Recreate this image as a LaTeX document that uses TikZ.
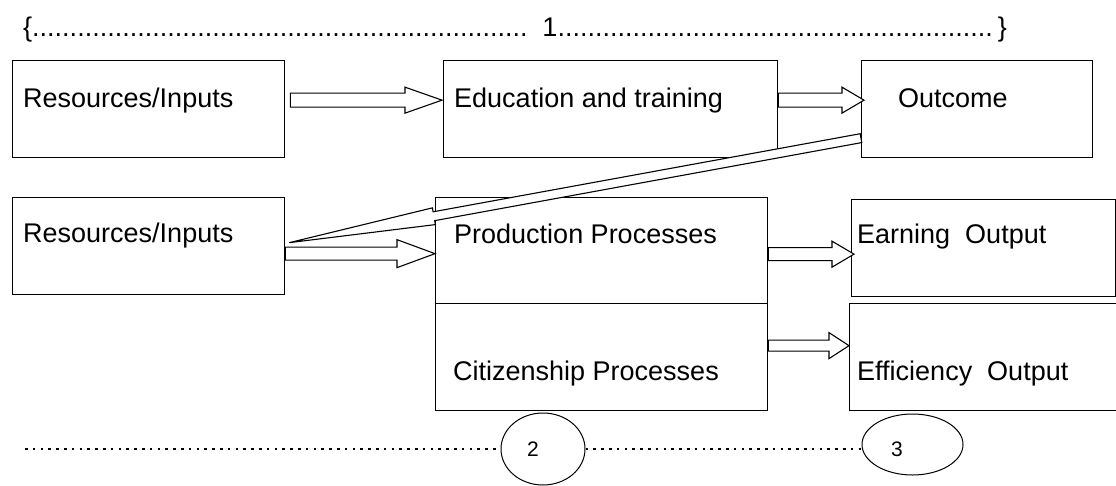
\documentclass[tikz,border=0pt]{standalone}
\usepackage{fontspec}
\setmainfont{Liberation Sans}
\usetikzlibrary{calc}
\usetikzlibrary{shapes.geometric}
\tikzset{
	box/.style = {draw, rectangle, line width=1.3pt, inner sep=0pt, anchor=north west},
	txt/.style = {anchor=base west, inner sep=0pt, font=\fontsize{27}{32}\selectfont},
	num/.style = {inner sep=0pt, font=\fontsize{21}{25}\selectfont},
	ring/.style = {draw, ellipse, line width=1pt, inner sep=0pt},
	hollow/.style = {draw, fill=white, line width=1.1pt, line join=miter},
	dotrule/.style = {line width=2.6pt, dash pattern=on 2.6pt off 5.2pt}
}
% row of full stops
\newcommand{\dotrow}[1]{\hbox to #1{\leaders\hbox{.}\hfill}}
% hollow block arrow: tail, tip, half shaft, half head, head length
\newcommand{\fatarrow}[5]{%
	\coordinate (hb) at ($(#2)!#5!(#1)$);
	\draw[hollow] ($(#1)!#3!90:(#2)$) -- ($(hb)!#3!90:(#2)$) -- ($(hb)!#4!90:(#2)$) -- (#2)
		-- ($(hb)!#4!-90:(#2)$) -- ($(hb)!#3!-90:(#2)$) -- ($(#1)!#3!-90:(#2)$) -- cycle;
}

\begin{document}
\begin{tikzpicture}[x=1pt, y=-1pt]
		\useasboundingbox (0,0) rectangle (1116,485);
		\node (brace)[txt] at (23,36){\{\dotrow{497pt}\hspace{13pt}1\dotrow{440pt}\}};
		%
		\node (resA)[box, minimum width=272pt, minimum height=97pt] at (12,60){};
		\node (edu)[box, minimum width=334pt, minimum height=97pt] at (443,60){};
		\node (outc)[box, minimum width=231pt, minimum height=97pt] at (861,60){};
		\node (resB)[box, minimum width=272pt, minimum height=97pt] at (12,197){};
		\node (prod)[box, minimum width=332pt, minimum height=106pt] at (435,197){};
		\node (citz)[box, minimum width=332pt, minimum height=107pt] at (435,303){};
		\node (earn)[box, minimum width=264pt, minimum height=97pt] at (851,199){};
		\node (effi)[box, minimum width=270pt, minimum height=107pt] at (849,303){};
		%
		\coordinate (a1) at ([shift={(5pt,9pt)}]resA.east);
		\coordinate (b1) at ([shift={(-1pt,9pt)}]edu.west);
		\coordinate (a2) at ([yshift=9pt]edu.east);
		\coordinate (b2) at ([shift={(3pt,9pt)}]outc.west);
		\coordinate (a3) at ([yshift=-29pt]outc.west);
		\coordinate (b3) at ([shift={(4pt,3.5pt)}]resB.east);
		\coordinate (a4) at ([yshift=-7.5pt]resB.east);
		\coordinate (b4) at ([yshift=-3pt]prod.west);
		\coordinate (a5) at ([yshift=-3.5pt]prod.east);
		\coordinate (b5) at ([shift={(3pt,-6pt)}]earn.west);
		\coordinate (a6) at ([yshift=11.5pt]citz.east);
		\coordinate (b6) at ([yshift=11.5pt]effi.west);
		\fatarrow{a1}{b1}{7pt}{13pt}{37pt}
		\fatarrow{a2}{b2}{7pt}{13pt}{22pt}
		\fatarrow{a3}{b3}{4.5pt}{8.5pt}{147pt}
		\fatarrow{a4}{b4}{6.5pt}{14pt}{38pt}
		\fatarrow{a5}{b5}{6.5pt}{13pt}{22pt}
		\fatarrow{a6}{b6}{5.5pt}{13pt}{20pt}
		%
		\node (tA)[txt] at (23,107){Resources/Inputs};
		\node (tEdu)[txt] at (454,107){Education and training};
		\node (tOut)[txt] at (898,107){Outcome};
		\node (tB)[txt] at (23,242){Resources/Inputs};
		\node (tProd)[txt] at (454,243){Production Processes};
		\node (tEarn)[txt] at (857,243){Earning\ \ Output};
		\node (tCitz)[txt] at (453,380){Citizenship Processes};
		\node (tEffi)[txt] at (857,380){Efficiency\ \ Output};
		%
		\node (e2)[ring, minimum width=84pt, minimum height=72pt] at (543,449){};
		\node (e3)[ring, minimum width=101pt, minimum height=61pt] at (912.5,444.5){};
		\node (num2)[num] at (533,449){2};
		\node (num3)[num] at (897,449){3};
		\coordinate (dl) at (25,449);
		\draw[dotrule] (dl) -- (e2.west);
		\draw[dotrule] (e2.east) -- (e2.east -| e3.west);
	\end{tikzpicture}
\end{document}
